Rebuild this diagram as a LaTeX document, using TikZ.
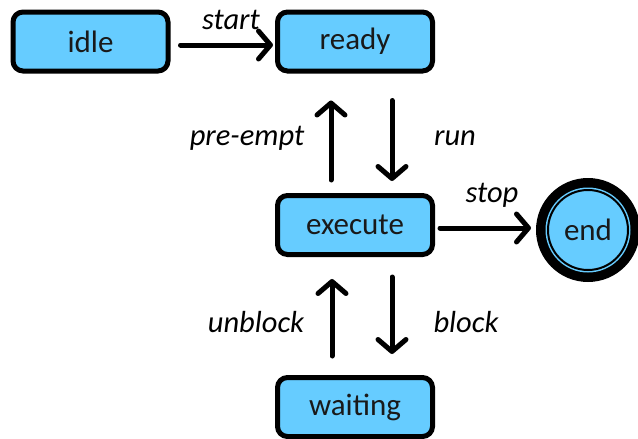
\documentclass[tikz,border=0pt]{standalone}
\usepackage{fontspec}
\setmainfont{Carlito}
\usetikzlibrary{arrows.meta}
\definecolor{boxblue}{HTML}{66CCFF}
\begin{document}
\begin{tikzpicture}[x=1pt,y=-1pt,
  state/.style={draw=black, line width=5pt, rounded corners=10pt, fill=boxblue,
    minimum width=155pt, minimum height=59pt, inner sep=0pt,
    font=\fontsize{31}{37}\selectfont, text=black!90},
  arr/.style={line width=5pt, line cap=round, line join=round,
    -{Straight Barb[length=12pt,width=28pt,line cap=round,line join=round]}},
  lbl/.style={font=\fontsize{30.5}{36}\selectfont\itshape, anchor=base, inner sep=0pt}]
\useasboundingbox (0,0) rectangle (638,439);
\node[state] (idle) at (90.5,41.5) {idle};
\node[state] (ready) at (355,41.5) {ready};
\node[state] (execute) at (355,225) {execute};
\node[state] (waiting) at (355,407) {waiting};
% end state (double circle)
\fill[black] (588,230) circle (52);
\fill[boxblue] (588,230) circle (42.5);
\node[circle, draw=black, line width=2pt, fill=boxblue, minimum size=80pt, inner sep=0pt,
  font=\fontsize{31}{37}\selectfont, text=black!90] (end) at (588,230) {end};
% connectors
\draw[arr, shorten <=10pt, shorten >=2pt] ([yshift=-3.5pt]idle.east) -- ([yshift=-3.5pt]ready.west);
\draw[arr, shorten <=13pt, shorten >=27pt] ([xshift=-24pt]execute.north) -- ([xshift=-24pt]ready.south);
\draw[arr, shorten <=27pt, shorten >=12pt] ([xshift=37pt]ready.south) -- ([xshift=37pt]execute.north);
\draw[arr, shorten <=5pt, shorten >=16pt] ([yshift=-3pt]execute.east) -- ([yshift=2pt]end.west);
\draw[arr, shorten <=19pt, shorten >=22pt] ([xshift=-23pt]waiting.north) -- ([xshift=-23pt]execute.south);
\draw[arr, shorten <=20pt, shorten >=21pt] ([xshift=37pt]execute.south) -- ([xshift=37pt]waiting.north);
% labels
\node[lbl] (lstart) at (231,30) {start};
\node[lbl] (lpre) at (247,145) {pre-empt};
\node[lbl] (lrun) at (455,145) {run};
\node[lbl] (lstop) at (492,202) {stop};
\node[lbl] (lunb) at (256,332) {unblock};
\node[lbl] (lblk) at (466,332) {block};
\end{tikzpicture}
\end{document}
